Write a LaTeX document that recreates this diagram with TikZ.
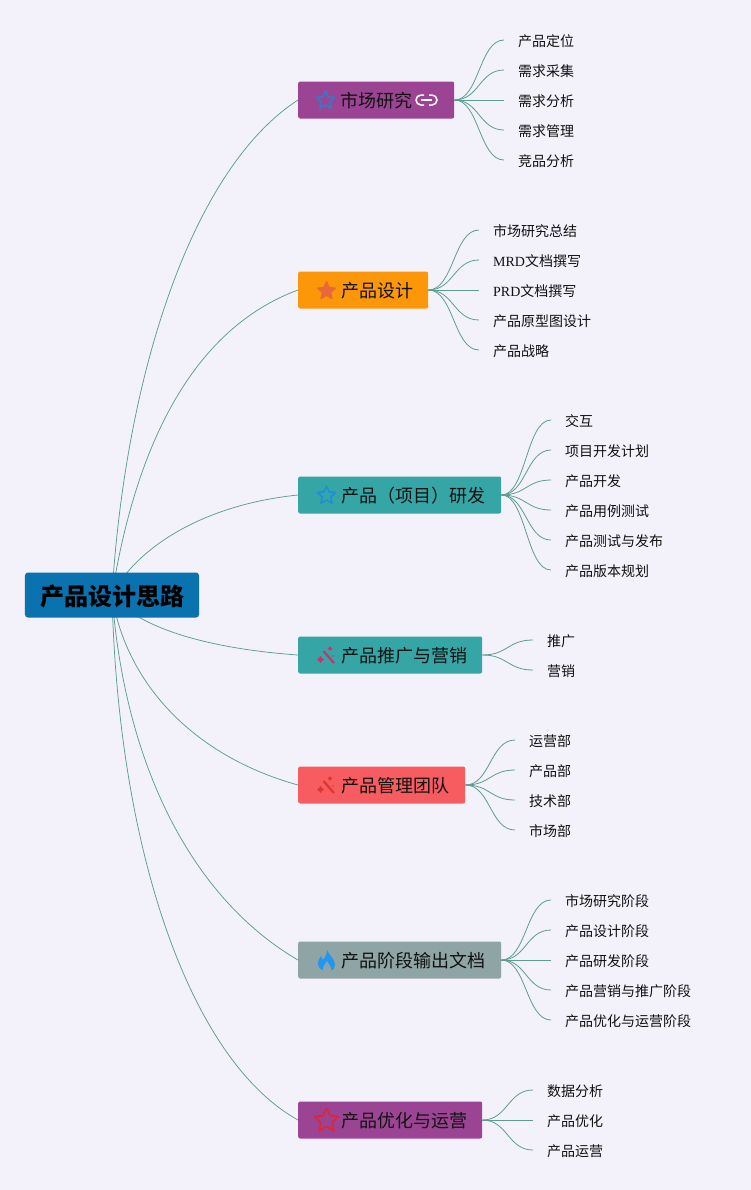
\documentclass[tikz,border=0pt]{standalone}
\usepackage{fontspec}
\setmainfont{Noto Sans CJK SC}
\newfontfamily\latinserif{Liberation Serif}
\usetikzlibrary{shapes.geometric,backgrounds,calc}
\definecolor{pagebg}{HTML}{F3F2FB}
\definecolor{linkline}{HTML}{5E9C8F}
\definecolor{cRoot}{HTML}{0A72AE}
\definecolor{cPurple}{HTML}{9C4494}
\definecolor{cOrange}{HTML}{FB9708}
\definecolor{cTeal}{HTML}{36A5A5}
\definecolor{cCoral}{HTML}{F75C60}
\definecolor{cGrey}{HTML}{8FA5A5}
\definecolor{inkc}{HTML}{111111}
\definecolor{HTMLblue}{HTML}{3F74C6}
\definecolor{HTMLorange}{HTML}{E8683A}
\definecolor{HTMLsky}{HTML}{1D8FD8}
\definecolor{HTMLred}{HTML}{D8283C}
\definecolor{HTMLrose}{HTML}{C8336C}
\definecolor{HTMLscarlet}{HTML}{E0342F}
\definecolor{HTMLflame}{HTML}{2196F3}
\newcommand{\mtext}[2]{\raisebox{-7.8bp}[10bp][10bp]{\makebox[#1bp][l]{\hspace*{43bp}#2}}}
\tikzset{
  x=1bp,y=-1bp,
  rootbox/.style={rectangle,rounded corners=3bp,fill=cRoot,inner sep=0pt,minimum width=174bp,minimum height=45bp,text=black,font=\fontsize{24bp}{28bp}\selectfont\bfseries},
  mainbox/.style={rectangle,rounded corners=2bp,anchor=west,inner sep=0pt,minimum height=37bp,text=inkc,font=\fontsize{18bp}{22bp}\selectfont},
  leaf/.style={anchor=west,inner xsep=14bp,inner ysep=0pt,text=inkc,font=\fontsize{14bp}{17bp}\selectfont},
  trunk/.style={draw=linkline,line width=0.75bp},
  twig/.style={draw=linkline,line width=0.8bp},
  outlinestar/.style={star,star points=5,star point ratio=2.1,inner sep=0pt,line join=round},
}
\newcommand{\twigs}[2]{\foreach \l in {#2}{\coordinate (twigend) at ($(\l.west)+(0,-1)$);\draw[twig] (#1.east) .. controls ($(#1.east)!0.5!(#1.east-|twigend)$) and ($(twigend)!0.5!(#1.east|-twigend)$) .. (twigend);}}
\begin{document}
\begin{tikzpicture}
\useasboundingbox (0,0) rectangle (751,1190);
\node[rootbox] (root) at (112,595) {\raisebox{-10bp}[12bp][12bp]{\hspace*{1bp}产品设计思路}};
% main boxes
\node[mainbox,fill=cPurple,minimum width=156bp] (m1) at (298,100) {\mtext{156}{\hspace*{-1bp}市场研究}};
\node[mainbox,fill=cOrange,minimum width=130bp] (m2) at (298,290) {\mtext{130}{产品设计}};
\node[mainbox,fill=cTeal,minimum width=203bp] (m3) at (298,495) {\mtext{203}{产品（项目）研发}};
\node[mainbox,fill=cTeal,minimum width=184bp] (m4) at (298,655) {\mtext{184}{产品推广与营销}};
\node[mainbox,fill=cCoral,minimum width=167bp] (m5) at (298,785) {\mtext{167}{产品管理团队}};
\node[mainbox,fill=cGrey,minimum width=203bp] (m6) at (298,960) {\mtext{203}{产品阶段输出文档}};
\node[mainbox,fill=cPurple,minimum width=184bp] (m7) at (298,1120) {\mtext{184}{产品优化与运营}};
% icons
\node[outlinestar,draw=HTMLblue,line width=1.8bp,minimum size=19bp] (i1) at (325.5,100.5) {};
\node[outlinestar,fill=HTMLorange,draw=HTMLorange,line width=1bp,minimum size=19bp] (i2) at (326.5,291) {};
\node[outlinestar,draw=HTMLsky,line width=1.6bp,minimum size=19bp] (i3) at (326.5,495.5) {};
\node[outlinestar,draw=HTMLred,line width=1.8bp,minimum size=25bp] (i7) at (326.5,1120.5) {};
% link icon
\draw[white,line width=1.5bp] (424,95) -- (421,95) arc[start angle=270,end angle=90,radius=5] -- (424,105);
\draw[white,line width=1.5bp] (429,95) -- (432,95) arc[start angle=-90,end angle=90,radius=5] -- (429,105);
\draw[white,line width=1.5bp] (421,100) -- (432,100);
% wands
\foreach \ox/\oy/\wc in {326/655/HTMLrose,326/785/HTMLscarlet}{
  \draw[\wc,line width=2.2bp] (\ox-2.5,\oy-4) -- (\ox+8,\oy+8);
  \fill[\wc] (\ox-5.5,\oy+1) -- (\ox-4,\oy+3) -- (\ox-2,\oy+4.5) -- (\ox-4,\oy+6) -- (\ox-5.5,\oy+8) -- (\ox-7,\oy+6) -- (\ox-9,\oy+4.5) -- (\ox-7,\oy+3) -- cycle;
  \fill[\wc] (\ox+4,\oy-9) -- (\ox+5,\oy-7.5) -- (\ox+6.5,\oy-6.5) -- (\ox+5,\oy-5.5) -- (\ox+4,\oy-4) -- (\ox+3,\oy-5.5) -- (\ox+1.5,\oy-6.5) -- (\ox+3,\oy-7.5) -- cycle;
  \fill[\wc] (\ox+7,\oy+1) circle[radius=0.9];
}
% flame
\fill[HTMLflame] (327,950) .. controls (329,955) and (335,959) .. (335,965)
  .. controls (335,968) and (333,970) .. (331,970.5)
  .. controls (332,967) and (329,964) .. (327,961)
  .. controls (325,964) and (322,967) .. (323,970.5)
  .. controls (320,969.5) and (318,967) .. (318,964)
  .. controls (318,960) and (320,958) .. (321,956)
  .. controls (322,958) and (322,959) .. (323,960)
  .. controls (325,957) and (327,955) .. (327,950) -- cycle;
% leaves
\node[leaf] (a1) at (504,41) {产品定位};
\node[leaf] (a2) at (504,71) {需求采集};
\node[leaf] (a3) at (504,101) {需求分析};
\node[leaf] (a4) at (504,131) {需求管理};
\node[leaf] (a5) at (504,161) {竞品分析};
\node[leaf] (b1) at (479,231) {市场研究总结};
\node[leaf] (b2) at (479,261) {{\latinserif MRD}文档撰写};
\node[leaf] (b3) at (479,291) {{\latinserif PRD}文档撰写};
\node[leaf] (b4) at (479,321) {产品原型图设计};
\node[leaf] (b5) at (479,351) {产品战略};
\node[leaf] (c1) at (551,421) {交互};
\node[leaf] (c2) at (551,451) {项目开发计划};
\node[leaf] (c3) at (551,481) {产品开发};
\node[leaf] (c4) at (551,511) {产品用例测试};
\node[leaf] (c5) at (551,541) {产品测试与发布};
\node[leaf] (c6) at (551,571) {产品版本规划};
\node[leaf] (d1) at (533,641) {推广};
\node[leaf] (d2) at (533,671) {营销};
\node[leaf] (e1) at (515,741) {运营部};
\node[leaf] (e2) at (515,771) {产品部};
\node[leaf] (e3) at (515,801) {技术部};
\node[leaf] (e4) at (515,831) {市场部};
\node[leaf] (f1) at (551,901) {市场研究阶段};
\node[leaf] (f2) at (551,931) {产品设计阶段};
\node[leaf] (f3) at (551,961) {产品研发阶段};
\node[leaf] (f4) at (551,991) {产品营销与推广阶段};
\node[leaf] (f5) at (551,1021) {产品优化与运营阶段};
\node[leaf] (g1) at (533,1091) {数据分析};
\node[leaf] (g2) at (533,1121) {产品优化};
\node[leaf] (g3) at (533,1151) {产品运营};
\begin{scope}[on background layer]
\fill[pagebg] (0,0) rectangle (751,1190);
\draw[trunk] (root.center) .. controls (125,380) and (190,170) .. (m1.west);
\draw[trunk] (root.center) .. controls (135,450) and (190,330) .. (m2.west);
\draw[trunk] (root.center) .. controls (135,550) and (200,505) .. (m3.west);
\draw[trunk] (root.center) .. controls (135,625) and (200,648) .. (m4.west);
\draw[trunk] (root.center) .. controls (125,680) and (190,755) .. (m5.west);
\draw[trunk] (root.center) .. controls (125,770) and (195,900) .. (m6.west);
\draw[trunk] (root.center) .. controls (118,850) and (190,1060) .. (m7.west);
\end{scope}
\twigs{m1}{a1,a2,a3,a4,a5}
\twigs{m2}{b1,b2,b3,b4,b5}
\twigs{m3}{c1,c2,c3,c4,c5,c6}
\twigs{m4}{d1,d2}
\twigs{m5}{e1,e2,e3,e4}
\twigs{m6}{f1,f2,f3,f4,f5}
\twigs{m7}{g1,g2,g3}
\end{tikzpicture}
\end{document}
